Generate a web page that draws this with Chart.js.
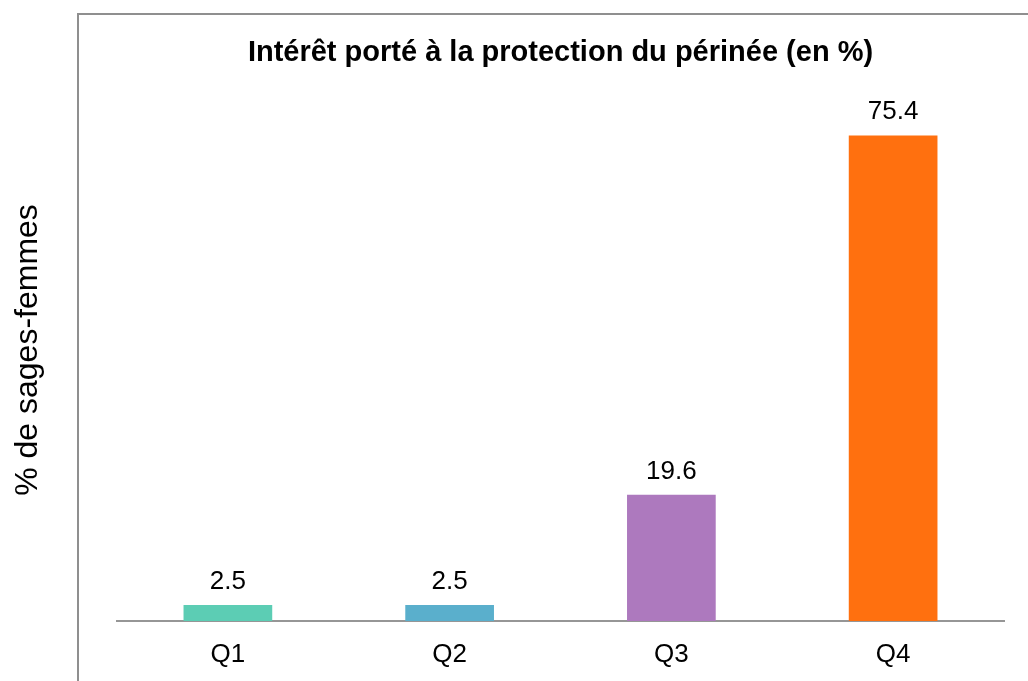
<!DOCTYPE html>
<html>
<head>
<meta charset="utf-8">
<script src="https://cdn.jsdelivr.net/npm/chart.js@4"></script>
<style>
  html, body { margin: 0; padding: 0; background: #fff; }
  #wrap { width: 1028px; height: 681px; }
</style>
</head>
<body>
<div id="wrap"><canvas id="myChart" width="1028" height="681"></canvas></div>
<script>
const categories = ["Q1", "Q2", "Q3", "Q4"];
const values = [2.5, 2.5, 19.6, 75.4];
const barColors = ["#5ccdb4", "#5aafcc", "#ad79be", "#ff700f"];
const yTitle = "% de sages-femmes";

const FONT = "'Liberation Sans', Arial, sans-serif";

// frame around the plot (open to the right and bottom, cut by the image edge)
const framePlugin = {
  id: "frame",
  beforeDraw: function (chart) {
    const ctx = chart.ctx;
    ctx.save();
    ctx.fillStyle = "#fff";
    ctx.fillRect(0, 0, chart.width, chart.height);
    ctx.strokeStyle = "#8f8f8f";
    ctx.lineWidth = 2;
    ctx.strokeRect(78, 14, 1100, 800);
    ctx.restore();
  },
};

// value printed above each bar + the rotated y title (sits outside the frame)
const valueLabels = {
  id: "valueLabels",
  afterDatasetsDraw: function (chart) {
    const ctx = chart.ctx;
    const meta = chart.getDatasetMeta(0);
    ctx.save();
    ctx.font = "26px " + FONT;
    ctx.fillStyle = "#000";
    ctx.textAlign = "center";
    ctx.textBaseline = "alphabetic";
    meta.data.forEach((bar, i) => {
      ctx.fillText(values[i].toFixed(1), bar.x, bar.y - 16);
    });

    ctx.translate(28, 350);
    ctx.rotate(-Math.PI / 2);
    ctx.font = "32px " + FONT;
    ctx.textBaseline = "middle";
    ctx.fillText(yTitle, 0, 0);
    ctx.restore();
  },
};

new Chart(document.getElementById("myChart"), {
  type: "bar",
  data: {
    labels: categories,
    datasets: [
      {
        data: values,
        backgroundColor: barColors,
        borderWidth: 0,
        barPercentage: 0.4,
        categoryPercentage: 1,
      },
    ],
  },
  options: {
    responsive: false,
    animation: false,
    layout: { padding: { left: 0, right: 24, top: 0, bottom: 8 } },
    plugins: {
      legend: { display: false },
      tooltip: { enabled: false },
      title: {
        display: true,
        fullSize: false,
        text: "Intérêt porté à la protection du périnée (en %)",
        color: "#000",
        font: { family: FONT, size: 29, weight: "bold" },
        padding: { top: 36, bottom: 35 },
      },
    },
    scales: {
      x: {
        grid: { display: false },
        border: { display: true, color: "#969696", width: 2 },
        ticks: {
          color: "#000",
          padding: 10,
          font: { family: FONT, size: 26 },
        },
        afterFit: (scale) => { scale.height = 52; },
      },
      y: {
        min: 0,
        max: 80,
        grid: { display: false },
        border: { display: false },
        ticks: { display: false },
        afterFit: (scale) => { scale.width = 117; },
      },
    },
  },
  plugins: [framePlugin, valueLabels],
});
</script>
</body>
</html>
